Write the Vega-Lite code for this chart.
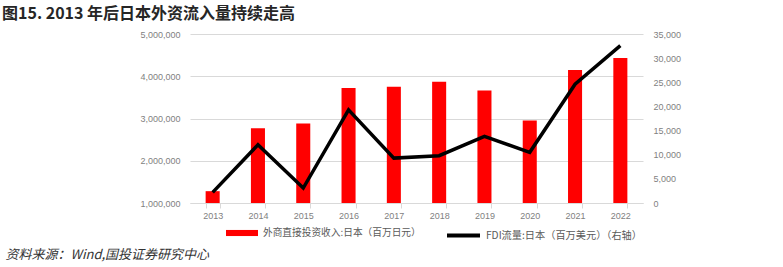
{
  "$schema": "https://vega.github.io/schema/vega-lite/v6.json",
  "width": 453,
  "height": 169,
  "autosize": {"type": "none"},
  "padding": {"left": 190, "top": 34, "right": 140, "bottom": 64},
  "background": "white",
  "title": {
    "text": "图15. 2013 年后日本外资流入量持续走高",
    "anchor": "start",
    "frame": "group",
    "dx": -188,
    "offset": 8,
    "font": "Noto Sans CJK SC",
    "fontSize": 16,
    "fontWeight": "bold",
    "color": "#262626"
  },
  "data": {
    "values": [
      {"year": "2013", "income": 1280000, "flow": 2200},
      {"year": "2014", "income": 2770000, "flow": 12050},
      {"year": "2015", "income": 2880000, "flow": 3100},
      {"year": "2016", "income": 3720000, "flow": 19300},
      {"year": "2017", "income": 3750000, "flow": 9300},
      {"year": "2018", "income": 3870000, "flow": 9800},
      {"year": "2019", "income": 3660000, "flow": 13800},
      {"year": "2020", "income": 2950000, "flow": 10500},
      {"year": "2021", "income": 4150000, "flow": 24600},
      {"year": "2022", "income": 4430000, "flow": 32600}
    ]
  },
  "encoding": {
    "x": {
      "field": "year",
      "type": "nominal",
      "sort": null,
      "scale": {"paddingInner": 0.69, "paddingOuter": 0.345},
      "axis": {
        "title": "资料来源：Wind,国投证券研究中心",
        "titleX": -185,
        "titleY": 51,
        "titleAlign": "left",
        "titleBaseline": "middle",
        "titleFont": "Noto Sans CJK SC",
        "titleFontStyle": "italic",
        "titleFontWeight": "normal",
        "titleFontSize": 13,
        "titleColor": "#333333",
        "labelAngle": 0,
        "labelFont": "Liberation Sans",
        "labelFontSize": 9,
        "labelColor": "#7f7f7f",
        "labelPadding": 3,
        "tickBand": "extent",
        "tickColor": "#d9d9d9",
        "tickSize": 5,
        "domainColor": "#d9d9d9",
        "grid": false
      }
    }
  },
  "layer": [
    {
      "mark": {"type": "bar", "color": "#ff0000"},
      "encoding": {
        "y": {
          "field": "income",
          "type": "quantitative",
          "scale": {"domain": [1000000, 5000000], "zero": false, "nice": false},
          "axis": {
            "title": null,
            "values": [1000000, 2000000, 3000000, 4000000, 5000000],
            "format": ",d",
            "domain": false,
            "ticks": false,
            "labelPadding": 10,
            "labelFont": "Liberation Sans",
            "labelFontSize": 9,
            "labelColor": "#7f7f7f",
            "grid": true,
            "gridColor": "#d9d9d9"
          }
        },
        "y2": {"datum": 1000000},
        "fill": {
          "datum": "外商直接投资收入:日本（百万日元）",
          "scale": {"range": ["#ff0000"]},
          "legend": {
            "title": null,
            "orient": "none",
            "legendX": 36,
            "legendY": 183,
            "direction": "horizontal",
            "padding": 0,
            "symbolType": "M-1,-0.19H1V0.19H-1Z",
            "symbolSize": 1024,
            "symbolStrokeWidth": 0,
            "labelFont": "Noto Sans CJK SC",
            "labelFontSize": 9.7,
            "labelLimit": 400,
            "labelColor": "#595959",
            "labelOffset": 5
          }
        }
      }
    },
    {
      "mark": {"type": "line", "strokeWidth": 3.5},
      "encoding": {
        "y": {
          "field": "flow",
          "type": "quantitative",
          "scale": {"domain": [0, 35000], "nice": false},
          "axis": {
            "title": null,
            "orient": "right",
            "values": [0, 5000, 10000, 15000, 20000, 25000, 30000, 35000],
            "format": ",d",
            "domain": false,
            "ticks": false,
            "labelPadding": 10,
            "labelFont": "Liberation Sans",
            "labelFontSize": 9,
            "labelColor": "#7f7f7f",
            "grid": false
          }
        },
        "stroke": {
          "datum": "FDI流量:日本（百万美元）（右轴）",
          "scale": {"range": ["#000000"]},
          "legend": {
            "title": null,
            "orient": "none",
            "legendX": 255,
            "legendY": 183,
            "direction": "horizontal",
            "padding": 0,
            "symbolType": "stroke",
            "symbolSize": 1089,
            "symbolStrokeWidth": 4,
            "labelFont": "Noto Sans CJK SC",
            "labelFontSize": 10.2,
            "labelLimit": 400,
            "labelColor": "#595959",
            "labelOffset": 4
          }
        }
      }
    }
  ],
  "resolve": {"scale": {"y": "independent"}},
  "config": {"view": {"stroke": null}}
}
